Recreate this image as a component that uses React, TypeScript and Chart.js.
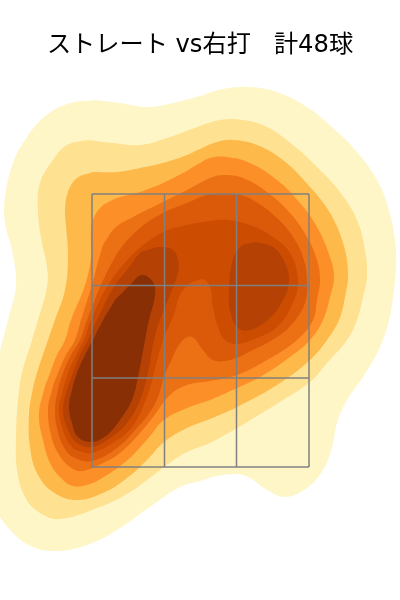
import { useEffect, useRef } from "react";
import { Chart, registerables } from "chart.js";

Chart.register(...registerables);

const titleText = "ストレート vs右打   計48球";
const levelColors = ["#FFF6C8", "#FEE191", "#FEB94B", "#FC8F28", "#EC7014", "#DA5A0A", "#CC4C02", "#B54105", "#B54105", "#882F05"];
const zoneX = [92, 164.5, 236.5, 309];
const zoneY = [194, 285.5, 378, 467];

const level1 = [[95,100],[120,103],[147,107],[173,103],[200,96],[223,89],[250,87],[277,92],[307,107],[333,128],[357,152],[377,180],[388,207],[395,240],[396,267],[393,297],[389,320],[380,347],[363,377],[347,400],[337,423],[332,447],[323,470],[307,488],[285,497],[267,490],[250,478],[237,474],[217,476],[200,481],[180,487],[150,507],[117,530],[87,545],[57,551],[33,547],[13,533],[-3,510],[-10,470],[-10,420],[-4,370],[8,320],[15,293],[16,277],[12,250],[5,223],[5,197],[13,163],[25,140],[43,118],[67,104]];
const level2 = [[88,140],[113,143],[140,145],[167,138],[200,126],[220,120],[243,120],[267,127],[293,145],[317,167],[340,192],[357,220],[365,250],[367,277],[363,297],[357,320],[347,340],[327,363],[310,382],[283,400],[237,428],[210,443],[187,452],[164,467],[147,480],[127,494],[100,507],[60,519],[40,513],[25,497],[17,470],[16,437],[18,400],[22,373],[32,340],[38,320],[47,287],[47,267],[42,243],[38,213],[40,183],[53,160],[67,145]];
const level3 = [[93,172],[117,172],[140,168],[163,163],[187,155],[200,149],[217,142],[233,140],[257,145],[283,160],[310,187],[330,213],[343,243],[348,273],[345,297],[339,320],[327,340],[310,360],[280,383],[237,407],[210,419],[187,428],[164,442],[147,460],[127,478],[105,492],[77,500],[53,492],[37,473],[30,447],[29,415],[32,393],[37,373],[48,340],[55,320],[65,290],[68,257],[66,225],[65,210],[68,192],[77,178]];
const level4 = [[103,205],[117,198],[140,192],[163,183],[183,173],[200,163],[210,158],[227,157],[250,163],[277,180],[300,203],[317,227],[330,257],[334,277],[330,297],[323,320],[310,340],[290,357],[260,377],[237,388],[210,400],[187,408],[164,420],[150,436],[133,455],[120,466],[107,475],[90,484],[73,486],[60,477],[50,463],[43,440],[39,415],[44,390],[50,373],[57,355],[65,340],[71,320],[85,285],[91,257],[91,230],[95,215]];
const level5 = [[103,245],[115,228],[133,217],[163,202],[187,190],[210,178],[223,175],[243,178],[267,192],[290,213],[307,237],[317,260],[320,280],[317,300],[313,320],[297,340],[267,360],[237,375],[210,381],[187,385],[170,395],[153,417],[140,433],[120,453],[103,463],[82,471],[70,467],[58,453],[51,435],[48,410],[52,390],[58,373],[66,355],[75,340],[81,320],[92,285],[98,262]];
const level6 = [[123,245],[140,228],[163,213],[187,203],[207,195],[227,193],[237,194],[253,200],[277,218],[293,237],[303,257],[307,280],[305,303],[293,323],[277,337],[253,350],[230,360],[213,360],[203,350],[192,337],[182,341],[170,363],[164,377],[158,397],[150,412],[137,428],[117,448],[92,461],[75,458],[65,449],[58,432],[55,410],[58,390],[63,373],[71,355],[80,340],[87,320],[101,285],[114,259]];
const level7 = [[143,245],[163,232],[187,225],[210,221],[227,220],[250,225],[273,237],[290,253],[298,280],[293,303],[277,327],[257,338],[237,344],[225,340],[218,327],[213,307],[210,287],[202,279],[183,290],[173,317],[163,340],[153,377],[147,397],[132,427],[113,443],[92,453],[82,452],[72,447],[64,433],[59,410],[63,390],[68,373],[76,355],[84,340],[91,320],[108,285],[130,257]];
const level8a = [[147,250],[160,247],[173,250],[178,260],[178,273],[170,295],[160,320],[154,340],[147,377],[140,400],[127,423],[110,438],[92,447],[77,443],[68,430],[63,410],[67,390],[73,373],[80,355],[88,340],[97,320],[115,285],[127,270],[140,253]];
const level8b = [[255,242],[273,247],[285,263],[289,282],[283,300],[270,318],[250,330],[238,328],[230,310],[229,290],[232,263],[240,247]];
const level9 = [[115,300],[130,285],[142,275],[153,282],[155,295],[149,320],[145,340],[138,377],[132,400],[120,420],[107,435],[92,442],[78,437],[72,423],[69,407],[72,390],[77,373],[85,355],[93,340],[102,322]];

const contours = [level1, level2, level3, level4, level5, level6, level7, level8a, level8b, level9];

export default function App() {
  const ref = useRef<HTMLCanvasElement>(null);
  useEffect(() => {
    document.body.style.margin = "0";
    const toPoints = (c: number[][]) => [...c, c[0]].map(([x, y]) => ({ x, y }));
    const lineSet = (data: { x: number; y: number }[]) => ({
      data, showLine: true, fill: false, borderColor: "#808080", borderWidth: 1.5, pointRadius: 0, tension: 0, order: 0,
    });
    const zoneLines = [
      ...zoneX.map((x) => lineSet([{ x, y: zoneY[0] }, { x, y: zoneY[zoneY.length - 1] }])),
      ...zoneY.map((y) => lineSet([{ x: zoneX[0], y }, { x: zoneX[zoneX.length - 1], y }])),
    ];
    const fills = contours.map((c, i) => ({
      data: toPoints(c), showLine: true, fill: "shape", backgroundColor: levelColors[i], borderWidth: 0,
      borderColor: levelColors[i], pointRadius: 0, tension: 0.4, capBezierPoints: false, order: contours.length - i,
    }));
    const chart = new Chart(ref.current!, {
      type: "scatter",
      data: { datasets: [...zoneLines, ...fills] as any },
      options: {
        animation: false,
        responsive: false,
        layout: { padding: 0 },
        events: [],
        scales: {
          x: { type: "linear", display: false, min: 0, max: 400 },
          y: { type: "linear", display: false, min: 60, max: 600, reverse: true },
        },
        plugins: {
          legend: { display: false },
          tooltip: { enabled: false },
          title: {
            display: true, text: titleText, color: "#000000",
            font: { family: "'DejaVu Sans', 'Noto Sans CJK JP'", size: 24.2, weight: "normal", lineHeight: 1.19 },
            padding: { top: 31, bottom: 0.2 },
          },
        },
      },
    });
    return () => chart.destroy();
  }, []);
  return <canvas ref={ref} width={400} height={600} style={{ display: "block", position: "absolute", left: 0, top: 0 }} />;
}
